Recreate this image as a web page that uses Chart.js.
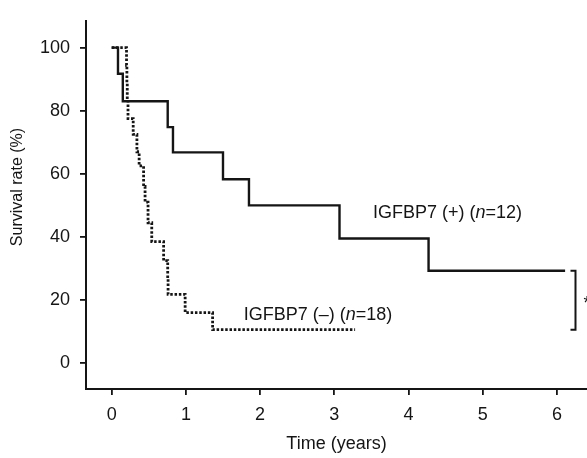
<!DOCTYPE html>
<html>
<head>
<meta charset="utf-8">
<script src="https://cdn.jsdelivr.net/npm/chart.js@4"></script>
<style>
html, body { margin: 0; padding: 0; background: #fff; }
#wrap { width: 587px; height: 458px; position: relative; }
</style>
</head>
<body>
<div id="wrap"><canvas id="myChart"></canvas></div>
<script>
// Kaplan-Meier curves (time in years, survival in %)
const posTimes = [0, 0.085, 0.15, 0.755, 0.826, 1.5, 1.85, 3.07, 4.27, 6.11];
const posSurv  = [100, 91.7, 83, 74.8, 66.8, 58.3, 50, 39.5, 29.3, 29.3];
const negTimes = [0, 0.2, 0.205, 0.21, 0.22, 0.29, 0.34, 0.37, 0.43, 0.45, 0.49, 0.54, 0.70, 0.755, 0.76, 0.99, 1.36, 3.28];
const negSurv  = [100, 94.4, 88.9, 83.5, 77.5, 72.5, 67, 62.5, 56, 51, 44.5, 38.5, 32.5, 27, 21.8, 16, 10.6, 10.6];
const xTicks = [0, 1, 2, 3, 4, 5, 6];
const yTicks = [0, 20, 40, 60, 80, 100];
const posLabel = ['IGFBP7 (+) (', 'n', '=12)'];
const negLabel = ['IGFBP7 (\u2013) (', 'n', '=18)'];

const ink = '#151515';
Chart.defaults.font.family = '"Liberation Sans", Arial, sans-serif';
Chart.defaults.color = ink;

function drawRich(ctx, parts, cx, cy) {
    const fonts = ['18px "Liberation Sans"', 'italic 18px "Liberation Sans"', '18px "Liberation Sans"'];
    let total = 0;
    const widths = parts.map((p, i) => { ctx.font = fonts[i]; const w = ctx.measureText(p).width; total += w; return w; });
    let x = cx - total / 2;
    ctx.textAlign = 'left';
    ctx.textBaseline = 'middle';
    parts.forEach((p, i) => { ctx.font = fonts[i]; ctx.fillText(p, x, cy); x += widths[i]; });
}

const notes = {
    id: 'notes',
    afterDatasetsDraw(chart) {
        const {ctx, scales: {x, y}} = chart;
        ctx.save();
        ctx.fillStyle = ink;
        drawRich(ctx, posLabel, x.getPixelForValue(4.525), y.getPixelForValue(47.5));
        drawRich(ctx, negLabel, x.getPixelForValue(2.78), y.getPixelForValue(15.2));

        // bracket between the two curve ends
        const bx = x.getPixelForValue(6.25);
        const top = y.getPixelForValue(posSurv[posSurv.length - 1]);
        const bot = y.getPixelForValue(negSurv[negSurv.length - 1]);
        ctx.strokeStyle = ink;
        ctx.lineWidth = 2;
        ctx.beginPath();
        ctx.moveTo(bx - 5, top); ctx.lineTo(bx, top); ctx.lineTo(bx, bot); ctx.lineTo(bx - 5, bot);
        ctx.stroke();
        ctx.font = '18px "Liberation Sans"';
        ctx.textAlign = 'left';
        ctx.textBaseline = 'middle';
        ctx.fillText('*', bx + 8, (top + bot) / 2 + 4);

        // y axis title
        ctx.translate(18, 187);
        ctx.rotate(-Math.PI / 2);
        ctx.font = '16px "Liberation Sans"';
        ctx.textAlign = 'center';
        ctx.fillText('Survival rate (%)', 0, 0);
        ctx.restore();
    }
};

const ctx = document.getElementById('myChart');

new Chart(ctx, {
    type: 'line',
    data: {
        datasets: [{
            label: 'IGFBP7 (+)',
            data: posTimes.map((t, i) => ({x: t, y: posSurv[i]})),
            stepped: true,
            borderColor: ink,
            borderWidth: 2.4,
            pointRadius: 0,
            fill: false
        }, {
            label: 'IGFBP7 (-)',
            data: negTimes.map((t, i) => ({x: t, y: negSurv[i]})),
            stepped: true,
            borderColor: ink,
            borderWidth: 2.8,
            borderDash: [2.5, 1.8],
            pointRadius: 0,
            fill: false
        }]
    },
    options: {
        responsive: true,
        maintainAspectRatio: false,
        animation: false,
        layout: {padding: {top: 6, left: 0, right: 0, bottom: 0}},
        plugins: {
            legend: {display: false},
            tooltip: {enabled: false}
        },
        scales: {
            x: {
                type: 'linear',
                min: -0.346,
                max: 6.405,
                afterBuildTicks: s => { s.ticks = xTicks.map(v => ({value: v})); },
                afterFit: s => { s.height = 69; },
                grid: {drawOnChartArea: false, drawTicks: true, tickLength: 6, color: ink, lineWidth: 1.8},
                border: {display: true, color: ink, width: 2},
                ticks: {font: {size: 18}, color: ink, padding: 9, maxRotation: 0},
                title: {display: true, text: 'Time (years)', font: {size: 18}, color: ink, padding: {top: 0, bottom: 3}}
            },
            y: {
                min: -8.2,
                max: 108.5,
                afterBuildTicks: s => { s.ticks = yTicks.map(v => ({value: v})); },
                afterFit: s => { s.width = 86; },
                grid: {drawOnChartArea: false, drawTicks: true, tickLength: 6, color: ink, lineWidth: 1.8},
                border: {display: true, color: ink, width: 2},
                ticks: {font: {size: 18}, color: ink, padding: 10}
            }
        }
    },
    plugins: [notes]
});
</script>
</body>
</html>
